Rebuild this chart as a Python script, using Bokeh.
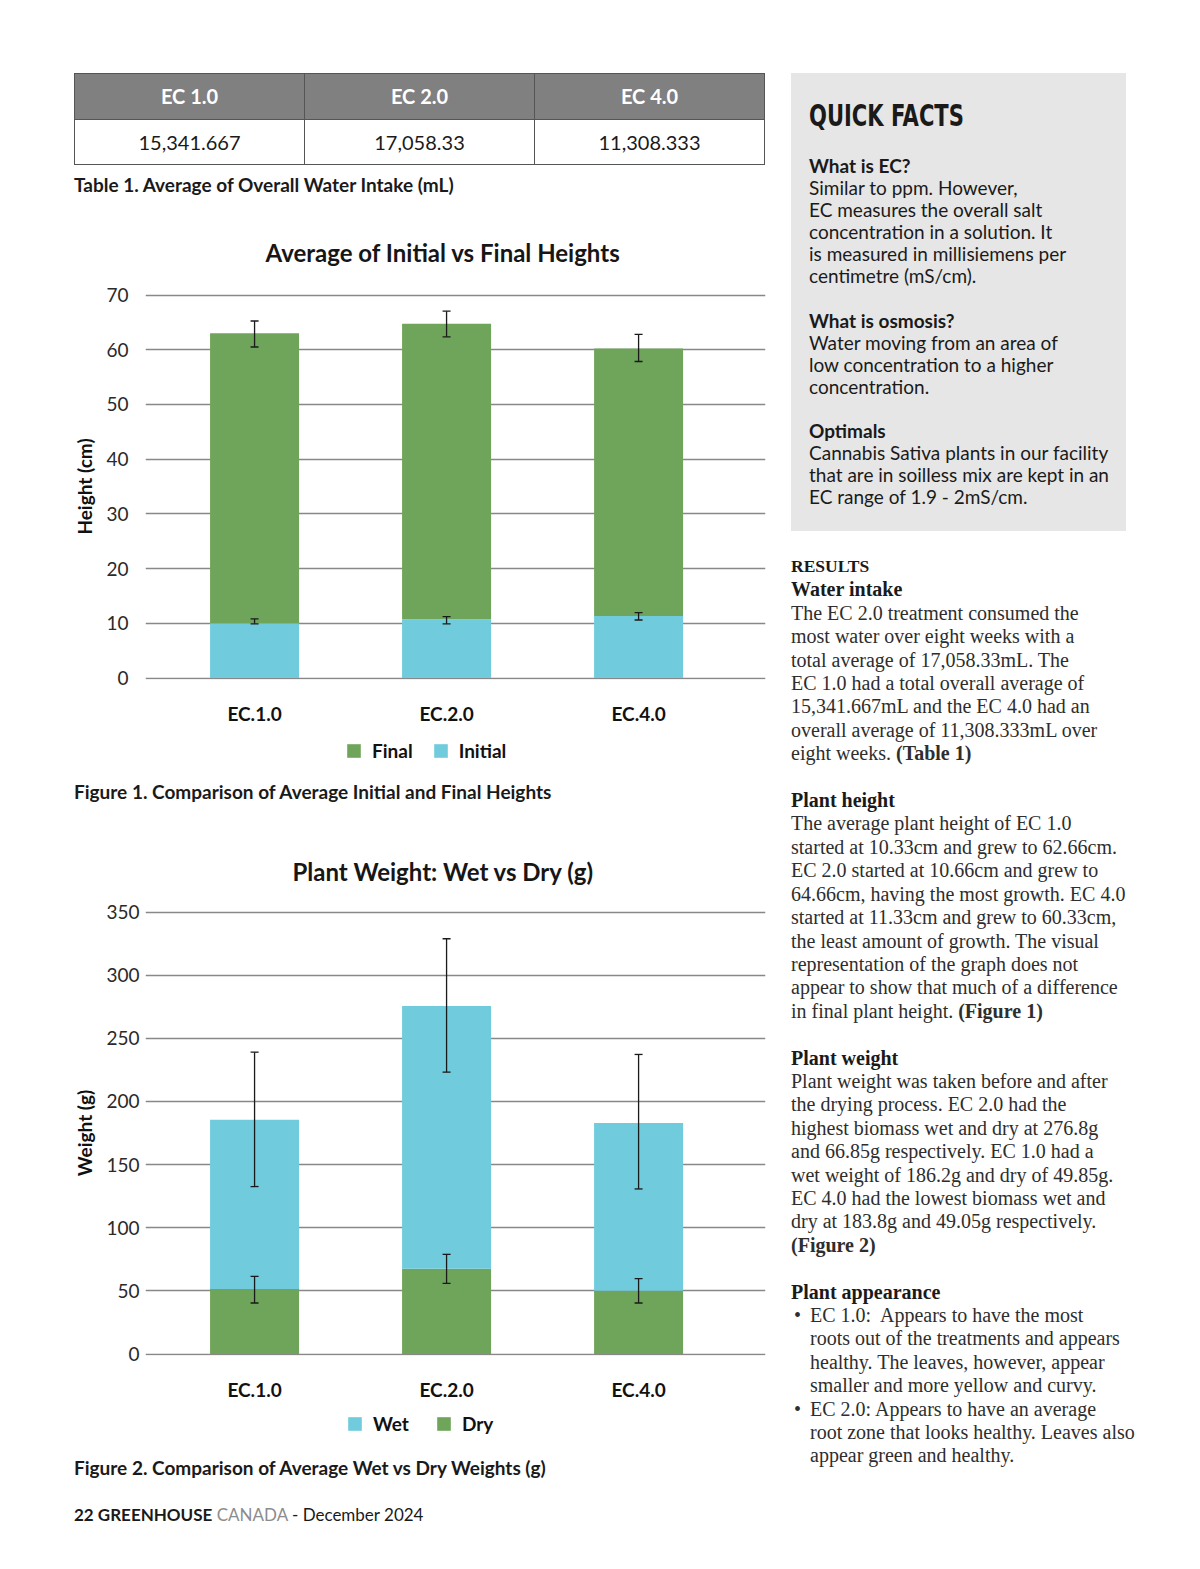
from bokeh.plotting import figure
from bokeh.models import (ColumnDataSource, Range1d, FixedTicker, Whisker, TeeHead,
                          Legend, LegendItem, Div, Spacer)
from bokeh.layouts import column, row
from bokeh.embed import file_html
from bokeh.resources import INLINE

# ---------------- data ----------------
categories = ["EC.1.0", "EC.2.0", "EC.4.0"]
table_headers = ["EC 1.0", "EC 2.0", "EC 4.0"]
water_intake = ["15,341.667", "17,058.33", "11,308.333"]

height_initial = [10.0, 10.75, 11.35]
height_final = [63.0, 64.75, 60.2]
initial_err_low = [9.9, 9.9, 10.6]
initial_err_high = [10.8, 11.2, 11.95]
final_err_low = [60.5, 62.35, 57.85]
final_err_high = [65.25, 67.05, 62.8]
height_ticks = [0, 10, 20, 30, 40, 50, 60, 70]

weight_wet = [185.5, 275.5, 183.0]
weight_dry = [51.5, 67.5, 50.0]
wet_err_low = [132.6, 223.2, 130.7]
wet_err_high = [239.0, 328.8, 237.2]
dry_err_low = [40.4, 55.9, 40.4]
dry_err_high = [61.5, 78.9, 59.7]
weight_ticks = [0, 50, 100, 150, 200, 250, 300, 350]

GREEN = "#6FA55A"
CYAN = "#70CCDD"
GRID = "#888888"
FONT = "Lato"

xs = list(range(len(categories)))

FIG_W = 701
BORDER_L = 80
LEG_H = 43


def base_chart(title, ylabel, ticks, border_top, frame_px, border_bottom,
               label_standoff, axis_label_standoff, title_standoff, title_offset):
    span = ticks[-1] - ticks[0]
    pad = span * 1.5 / frame_px
    frame_h = frame_px + 3
    p = figure(width=FIG_W, height=border_top + frame_h + border_bottom,
               x_range=Range1d(-0.568, 2.661),
               y_range=Range1d(ticks[0] - pad, ticks[-1] + pad),
               output_backend="svg", toolbar_location=None,
               min_border_left=BORDER_L, min_border_right=1,
               min_border_top=border_top, min_border_bottom=border_bottom)
    p.margin = (0, 0, 0, 0)
    p.outline_line_color = None
    p.background_fill_color = "white"
    p.border_fill_color = "white"
    p.title.text = title
    p.title.align = "left"
    p.title.offset = title_offset
    p.title.standoff = title_standoff
    p.title.text_font = FONT
    p.title.text_font_size = "24px"
    p.title.text_font_style = "bold"
    p.title.text_color = "#161616"

    p.xgrid.visible = False
    p.ygrid.grid_line_color = GRID
    p.ygrid.grid_line_width = 1.6
    p.yaxis.ticker = FixedTicker(ticks=ticks)
    p.yaxis.axis_line_color = None
    p.yaxis.major_tick_line_color = None
    p.yaxis.minor_tick_line_color = None
    p.yaxis.major_tick_out = 0
    p.yaxis.major_tick_in = 0
    p.yaxis.minor_tick_out = 0
    p.yaxis.major_label_standoff = label_standoff
    p.yaxis.major_label_text_font = FONT
    p.yaxis.major_label_text_font_size = "19px"
    p.yaxis.major_label_text_color = "#2a2a2a"
    p.yaxis.axis_label = ylabel
    p.yaxis.axis_label_text_font = FONT
    p.yaxis.axis_label_text_font_size = "19px"
    p.yaxis.axis_label_text_font_style = "bold"
    p.yaxis.axis_label_text_color = "#111111"
    p.yaxis.axis_label_standoff = axis_label_standoff

    p.xaxis.ticker = FixedTicker(ticks=xs)
    p.xaxis.major_label_overrides = {i: c for i, c in zip(xs, categories)}
    p.xaxis.axis_line_color = None
    p.xaxis.major_tick_line_color = None
    p.xaxis.minor_tick_line_color = None
    p.xaxis.major_tick_out = 0
    p.xaxis.major_tick_in = 0
    p.xaxis.minor_tick_out = 0
    p.xaxis.major_label_standoff = 22
    p.xaxis.major_label_text_font = FONT
    p.xaxis.major_label_text_font_size = "19px"
    p.xaxis.major_label_text_font_style = "bold"
    p.xaxis.major_label_text_color = "#111111"
    return p


def add_whisker(p, src, lo, hi):
    w = Whisker(source=src, base="x", lower=lo, upper=hi, level="overlay",
                line_color="#1a1a1a", line_width=1.3,
                upper_head=TeeHead(size=8, line_color="#1a1a1a", line_width=1.3),
                lower_head=TeeHead(size=8, line_color="#1a1a1a", line_width=1.3))
    p.add_layout(w)


def legend_fig(src, entries, loc, spacing):
    """A strip holding the chart's legend, placed below the chart."""
    lf = figure(width=FIG_W, height=LEG_H, x_range=Range1d(-0.568, 2.661),
                y_range=Range1d(0, 1), output_backend="svg", toolbar_location=None,
                x_axis_type=None, y_axis_type=None, min_border=0)
    lf.margin = (0, 0, 0, 0)
    lf.outline_line_color = None
    lf.xgrid.visible = False
    lf.ygrid.visible = False
    items = []
    for label, bottom, top, color in entries:
        r = lf.vbar(x="x", width=0.4635, bottom=bottom, top=top, source=src,
                    fill_color=color, line_color=None, visible=False)
        items.append(LegendItem(label=label, renderers=[r]))
    lg = Legend(items=items, orientation="horizontal", location=loc,
                glyph_width=17, glyph_height=17, label_standoff=10, spacing=spacing,
                padding=0, margin=0, background_fill_alpha=0, border_line_color=None,
                label_text_font=FONT, label_text_font_size="19px",
                label_text_font_style="bold", label_text_color="#111111")
    lf.add_layout(lg)
    return lf


LEFT0 = 145 - BORDER_L  # page x of the left column

# ---------------- Figure 1 ----------------
src1 = ColumnDataSource(dict(x=xs, initial=height_initial, final=height_final,
                             ilo=initial_err_low, ihi=initial_err_high,
                             flo=final_err_low, fhi=final_err_high))
p1 = base_chart("Average of Initial vs Final Heights", "Height (cm)", height_ticks,
                86, 383, 50, 17, 7, 53, 120)
p1.vbar(x="x", width=0.4635, bottom=0, top="initial", source=src1,
        fill_color=CYAN, line_color=None)
p1.vbar(x="x", width=0.4635, bottom="initial", top="final", source=src1,
        fill_color=GREEN, line_color=None)
add_whisker(p1, src1, "ilo", "ihi")
add_whisker(p1, src1, "flo", "fhi")
lg1 = legend_fig(src1, [("Final", "initial", "final", GREEN),
                        ("Initial", 0, "initial", CYAN)],
                 (200, 10), 19)

# ---------------- Figure 2 ----------------
src2 = ColumnDataSource(dict(x=xs, wet=weight_wet, dry=weight_dry,
                             wlo=wet_err_low, whi=wet_err_high,
                             dlo=dry_err_low, dhi=dry_err_high))
p2 = base_chart("Plant Weight: Wet vs Dry (g)", "Weight (g)", weight_ticks,
                86, 442, 50, 6, 7, 50, 147)
p2.vbar(x="x", width=0.4635, bottom=0, top="dry", source=src2,
        fill_color=GREEN, line_color=None)
p2.vbar(x="x", width=0.4635, bottom="dry", top="wet", source=src2,
        fill_color=CYAN, line_color=None)
add_whisker(p2, src2, "wlo", "whi")
add_whisker(p2, src2, "dlo", "dhi")
lg2 = legend_fig(src2, [("Wet", "dry", "wet", CYAN),
                        ("Dry", 0, "dry", GREEN)],
                 (201, 13), 26)

# ---------------- HTML blocks ----------------
PADL = 74 - LEFT0
cell = "border:1px solid #555;text-align:center;padding:0;"
head_cells = "".join(f'<td style="{cell}">{h}</td>' for h in table_headers)
body_cells = "".join(f'<td style="{cell}">{v}</td>' for v in water_intake)
table_html = f"""
<div style="padding-left:{PADL}px;font-family:Lato;">
<table style="border-collapse:collapse;table-layout:fixed;width:691px;font-family:Lato;font-size:20px;">
<tr style="height:46px;background:#808080;color:#ffffff;font-weight:bold;">{head_cells}</tr>
<tr style="height:45px;background:#ffffff;color:#1a1a1a;">{body_cells}</tr>
</table>
<div style="margin-top:10px;font-weight:bold;font-size:19px;line-height:20px;color:#1a1a1a;white-space:nowrap;">Table 1. Average of Overall Water Intake (mL)</div>
</div>"""


def caption(text, pad):
    return (f'<div style="padding-left:{PADL}px;padding-top:{pad}px;font-family:Lato;font-weight:bold;'
            f'font-size:19px;line-height:24px;color:#1a1a1a;white-space:nowrap;">{text}</div>')


footer_html = (f'<div style="padding-left:{PADL}px;padding-top:10px;font-family:Lato;font-size:17px;'
               'line-height:24px;color:#1a1a1a;white-space:nowrap;">'
               '<b>22 GREENHOUSE</b> <span style="color:#8c8c8c;">CANADA</span> - December 2024</div>')

qf_html = """
<div style="width:335px;height:458px;background:#e6e6e6;box-sizing:border-box;padding:28px 8px 0 18px;font-family:Lato;color:#1a1a1a;">
<div style="height:30px;white-space:nowrap;"><span style="display:inline-block;transform:scaleX(0.78);transform-origin:0 50%;font-family:'Liberation Sans Narrow','DejaVu Sans Condensed',sans-serif;font-weight:bold;font-size:30px;line-height:30px;">QUICK FACTS</span></div>
<div style="margin-top:24px;font-size:19px;line-height:22.1px;white-space:nowrap;">
<b>What is EC?</b><br>Similar to ppm. However,<br>EC measures the overall salt<br>concentration in a solution. It<br>is measured in millisiemens per<br>centimetre (mS/cm).<br><br>
<b>What is osmosis?</b><br>Water moving from an area of<br>low concentration to a higher<br>concentration.<br><br>
<b>Optimals</b><br>Cannabis Sativa plants in our facility<br>that are in soilless mix are kept in an<br>EC range of 1.9 - 2mS/cm.
</div></div>"""

bul = '<div style="position:relative;padding-left:19px;"><span style="position:absolute;left:3px;">&bull;</span>'
results_html = f"""
<div style="padding-top:23px;font-family:'Liberation Serif',serif;font-size:20px;line-height:23.4px;color:#2e2e2e;white-space:nowrap;">
<b style="font-size:17.5px;color:#1a1a1a;">RESULTS</b><br>
<b style="color:#1a1a1a;">Water intake</b><br>
The EC 2.0 treatment consumed the<br>most water over eight weeks with a<br>total average of 17,058.33mL. The<br>EC 1.0 had a total overall average of<br>15,341.667mL and the EC 4.0 had an<br>overall average of 11,308.333mL over<br>eight weeks. <b>(Table 1)</b><br><br>
<b style="color:#1a1a1a;">Plant height</b><br>
The average plant height of EC 1.0<br>started at 10.33cm and grew to 62.66cm.<br>EC 2.0 started at 10.66cm and grew to<br>64.66cm, having the most growth. EC 4.0<br>started at 11.33cm and grew to 60.33cm,<br>the least amount of growth. The visual<br>representation of the graph does not<br>appear to show that much of a difference<br>in final plant height. <b>(Figure 1)</b><br><br>
<b style="color:#1a1a1a;">Plant weight</b><br>
Plant weight was taken before and after<br>the drying process. EC 2.0 had the<br>highest biomass wet and dry at 276.8g<br>and 66.85g respectively. EC 1.0 had a<br>wet weight of 186.2g and dry of 49.85g.<br>EC 4.0 had the lowest biomass wet and<br>dry at 183.8g and 49.05g respectively.<br><b>(Figure 2)</b><br><br>
<b style="color:#1a1a1a;">Plant appearance</b>
{bul}EC 1.0:&nbsp; Appears to have the most<br>roots out of the treatments and appears<br>healthy. The leaves, however, appear<br>smaller and more yellow and curvy.</div>
{bul}EC 2.0: Appears to have an average<br>root zone that looks healthy. Leaves also<br>appear green and healthy.</div>
</div>"""

table_div = Div(text=table_html, width=FIG_W, height=134, margin=(0, 0, 0, 0))
cap1_div = Div(text=caption("Figure 1. Comparison of Average Initial and Final Heights", 8),
               width=FIG_W, height=52, margin=(0, 0, 0, 0))
cap2_div = Div(text=caption("Figure 2. Comparison of Average Wet vs Dry Weights (g)", 8),
               width=FIG_W, height=45, margin=(0, 0, 0, 0))
footer_div = Div(text=footer_html, width=FIG_W, height=40, margin=(0, 0, 0, 0))
qf_div = Div(text=qf_html, width=335, height=458, margin=(0, 0, 0, 0))
res_div = Div(text=results_html, width=345, height=960, margin=(0, 0, 0, 0))

left = column(table_div, p1, lg1, cap1_div, p2, lg2, cap2_div, footer_div, spacing=0)
right = column(qf_div, res_div, spacing=0)
body = row(Spacer(width=LEFT0, height=10), left,
           Spacer(width=791 - 766, height=10), right, spacing=0)
page = column(Spacer(width=10, height=73), body, spacing=0)

open("out.html", "w").write(file_html(page, INLINE))
